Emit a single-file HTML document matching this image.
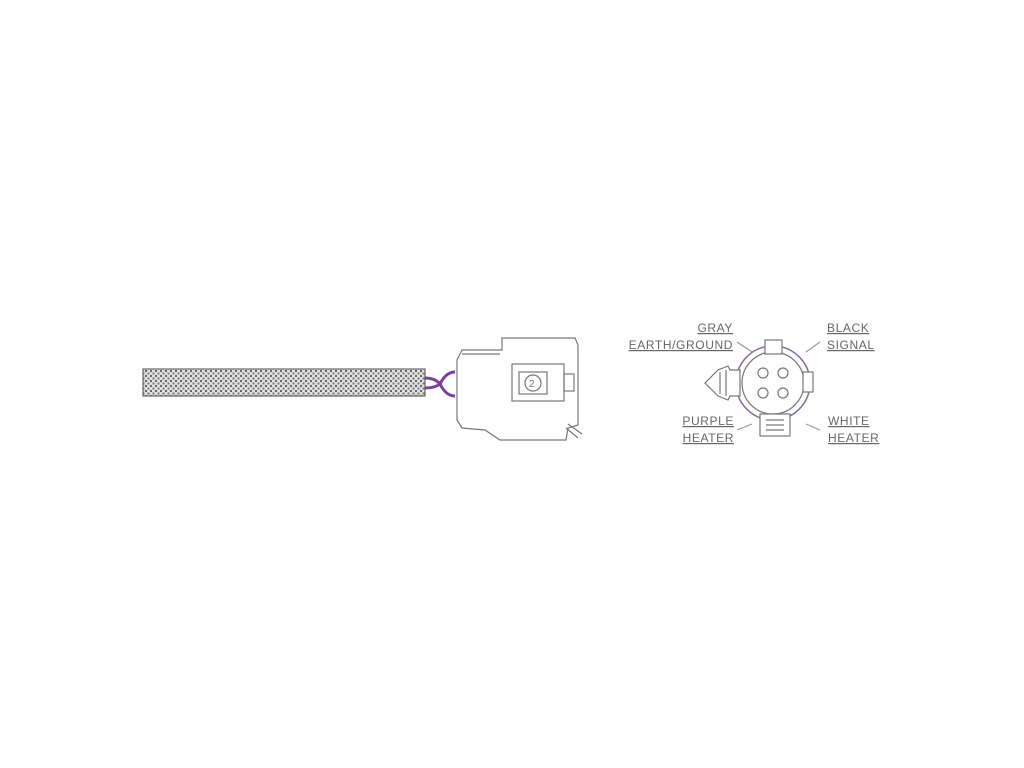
<!DOCTYPE html>
<html><head><style>html,body{margin:0;background:#fff;}svg{display:block}</style></head>
<body>
<svg width="1024" height="768" viewBox="0 0 1024 768" xmlns="http://www.w3.org/2000/svg">
<defs>
<pattern id="mesh" width="5" height="5" patternUnits="userSpaceOnUse">
<rect width="5" height="5" fill="#e0e0e0"/>
<rect width="2" height="2" fill="#666"/>
<rect x="2.5" y="2.5" width="2" height="2" fill="#777"/>
</pattern>
</defs>
<g stroke="#777" stroke-width="1.2" fill="none">
<rect x="143" y="369" width="282" height="27" fill="url(#mesh)" stroke="#666"/>
<path d="M425 378 Q435 378 440 384 Q446 372 455 372" stroke="#7a3da0" stroke-width="3"/>
<path d="M425 388 Q435 388 440 384 Q446 396 455 396" stroke="#7a3da0" stroke-width="3"/>
<path d="M457 360 L462 350 L502 350 L502 338 L575 338 L578 345 L578 425 L568 428 L566 440 L500 440 L485 430 L462 428 L457 420 Z" fill="#fff"/>
<path d="M462 354 L500 354"/>
<rect x="512" y="364" width="52" height="37"/>
<rect x="519" y="372" width="28" height="22"/>
<circle cx="533" cy="383" r="8"/>
<text x="529" y="387" font-size="10" fill="#777" stroke="none" font-family="Liberation Sans,sans-serif">2</text>
<rect x="564" y="374" width="10" height="17"/>
<path d="M566 428 L578 438 M568 424 L582 434"/>
<circle cx="773" cy="383" r="37" stroke="#8a6a9a" stroke-width="1.5"/>
<circle cx="773" cy="383" r="31"/>
<rect x="765" y="340" width="17" height="14" fill="#fff"/>
<rect x="760" y="414" width="30" height="22" fill="#fff"/>
<path d="M766 420 L784 420 M766 425 L784 425 M766 430 L784 430"/>
<rect x="803" y="372" width="10" height="20" fill="#fff"/>
<path d="M740 370 L730 370 L728 366 L718 370 L710 378 L705 383 L710 388 L718 396 L728 400 L730 396 L740 396 Z" fill="#fff"/>
<path d="M720 372 L720 394 M726 370 L726 396"/>
<circle cx="763" cy="373" r="5"/><circle cx="783" cy="373" r="5"/>
<circle cx="763" cy="393" r="5"/><circle cx="783" cy="393" r="5"/>
<path d="M737 342 L752 352 M820 342 L806 352 M737 430 L752 424 M820 430 L806 424" stroke="#999"/>
</g>
<g font-family="Liberation Sans,sans-serif" font-size="12" fill="#666" text-decoration="underline" letter-spacing="0.6">
<text x="733" y="332" text-anchor="end">GRAY</text>
<text x="733" y="349" text-anchor="end">EARTH/GROUND</text>
<text x="827" y="332">BLACK</text>
<text x="827" y="349">SIGNAL</text>
<text x="734" y="425" text-anchor="end">PURPLE</text>
<text x="734" y="442" text-anchor="end">HEATER</text>
<text x="828" y="425">WHITE</text>
<text x="828" y="442">HEATER</text>
</g>
</svg>
</body></html>
